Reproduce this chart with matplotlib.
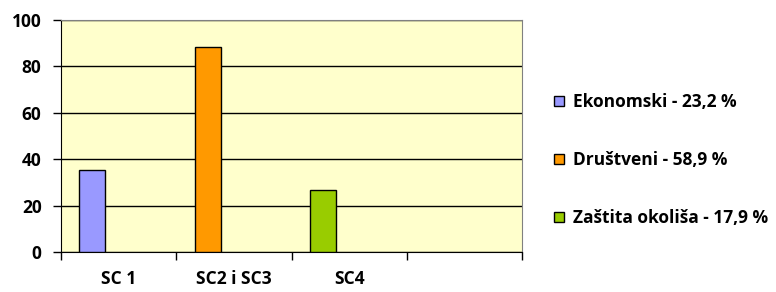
import numpy as np
import matplotlib.pyplot as plt
from matplotlib.lines import Line2D

categories = ['SC 1', 'SC2 i SC3', 'SC4', '']
values = [35.3, 88.4, 26.7, np.nan]
series = ['Ekonomski - 23,2 %', 'Društveni - 58,9 %', 'Zaštita okoliša - 17,9 %']
colors = ['#9999FF', '#FF9900', '#99CC00']

plt.rcParams['font.family'] = ['Open Sans', 'DejaVu Sans']
plt.rcParams['font.weight'] = 'bold'

fig = plt.figure(figsize=(7.76, 2.92), dpi=100)
ax = fig.add_axes([61/776, 1-252/292, (522-61)/776, (252-20)/292])
ax.set_facecolor('#FFFFCC')

# 棒グラフ（カテゴリ内で左寄せ）
x = np.arange(len(categories))
ax.bar(x[:3] - 0.227, values[:3], width=0.225, color=colors,
       edgecolor='black', linewidth=1.0, zorder=3)

ax.set_xlim(-0.5, len(categories) - 0.5)
ax.set_ylim(0, 100)
ax.set_yticks([0, 20, 40, 60, 80, 100])
ax.yaxis.grid(True, color='black', linewidth=1.0, zorder=1)
ax.set_axisbelow(True)

# x軸：境界に目盛り、中央にラベル
ax.set_xticks(np.arange(len(categories) + 1) - 0.5)
ax.set_xticklabels([])
ax.set_xticks(x, minor=True)
ax.set_xticklabels(categories, minor=True, fontsize=12.5, fontweight='bold')
ax.tick_params(axis='x', which='major', direction='out', length=6, width=1)
ax.tick_params(axis='x', which='minor', length=0, pad=13)
ax.tick_params(axis='y', direction='out', length=6, width=1, pad=8, labelsize=12.5)
for lbl in ax.get_yticklabels():
    lbl.set_fontweight('bold')

ax.spines['left'].set_color('black')
ax.spines['bottom'].set_color('black')
ax.spines['top'].set_color('#808080')
ax.spines['right'].set_color('#808080')

handles = [Line2D([], [], marker='s', linestyle='none', markersize=7,
                  markerfacecolor=c, markeredgecolor='black', markeredgewidth=1.0)
           for c in colors]
fig.legend(handles, series, loc='center left', bbox_to_anchor=(536/776, 1-160/292),
           frameon=False, prop={'size': 12.5, 'weight': 'bold'},
           labelspacing=2.3, handlelength=0.8, handletextpad=0.45)

plt.savefig('out.png', dpi=100)
